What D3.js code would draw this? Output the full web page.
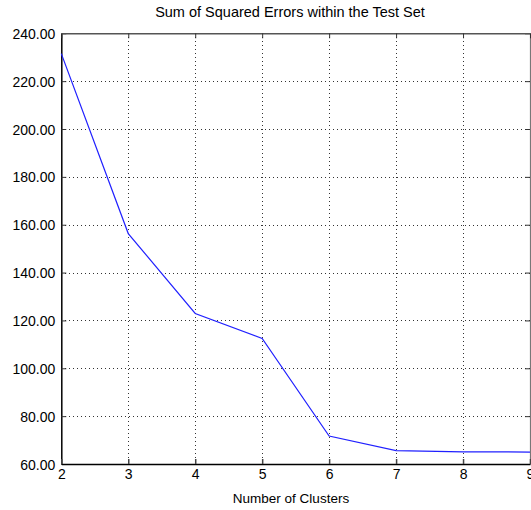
<!DOCTYPE html>
<html>
<head>
<meta charset="utf-8">
<script src="https://cdn.jsdelivr.net/npm/d3@7"></script>
<style>
  html, body { margin: 0; padding: 0; background: #fff; }
  text { font-family: "Liberation Sans", Arial, sans-serif; fill: #000; }
</style>
</head>
<body>
<svg id="chart" width="531" height="510"></svg>
<script>
const clusters = [2, 3, 4, 5, 6, 7, 8, 9];
const sse = [231.5, 156.3, 122.9, 112.5, 71.7, 65.6, 65.1, 65.0];
const yTicks = [60, 80, 100, 120, 140, 160, 180, 200, 220, 240];
const xTicks = [2, 3, 4, 5, 6, 7, 8, 9];
const titleText = "Sum of Squared Errors within the Test Set";
const xLabelText = "Number of Clusters";

const svg = d3.select("#chart");
const pL = 61.3, pR = 530, pT = 33.3, pB = 464;

const x = d3.scaleLinear().domain([2, 9]).range([pL, pR]);
const y = d3.scaleLinear().domain([60, 240]).range([pB, pT]);

// grid
const grid = svg.append("g").attr("stroke", "#333").attr("stroke-width", 1)
  .attr("stroke-dasharray", "1,3").attr("shape-rendering", "crispEdges");
grid.selectAll(".vg").data(xTicks.slice(1, -1)).join("line")
  .attr("x1", d => Math.round(x(d)) + 0.5).attr("x2", d => Math.round(x(d)) + 0.5)
  .attr("y1", pT).attr("y2", pB);
grid.selectAll(".hg").data(yTicks.slice(1, -1)).join("line")
  .attr("y1", d => Math.round(y(d)) + 0.5).attr("y2", d => Math.round(y(d)) + 0.5)
  .attr("x1", pL).attr("x2", pR);

// axes with inward ticks
const yAxisL = d3.axisLeft(y).tickValues(yTicks).tickSizeInner(-5).tickSizeOuter(0)
  .tickPadding(10).tickFormat(d3.format(".2f"));
const gL = svg.append("g").attr("transform", `translate(${pL},0)`).call(yAxisL);
gL.select(".domain").attr("stroke", "#000").attr("stroke-width", 1.5);
gL.selectAll(".tick line").attr("stroke", "#333");
gL.selectAll(".tick text").attr("font-size", 14).attr("font-family", "Liberation Sans, Arial, sans-serif")
  .attr("fill", "#222").attr("x", -6).attr("dy", "0.36em");

const yAxisR = d3.axisRight(y).tickValues(yTicks).tickSizeInner(-5).tickSizeOuter(0).tickFormat("");
const gR = svg.append("g").attr("transform", `translate(${pR},0)`).call(yAxisR);
gR.select(".domain").attr("stroke", "#777").attr("stroke-width", 1.2);
gR.selectAll(".tick line").attr("stroke", "#333");

const xAxisB = d3.axisBottom(x).tickValues(xTicks).tickSizeInner(-5).tickSizeOuter(0)
  .tickPadding(8).tickFormat(d3.format("d"));
const gB = svg.append("g").attr("transform", `translate(0,${pB})`).call(xAxisB);
gB.select(".domain").attr("stroke", "#000").attr("stroke-width", 1.5);
gB.selectAll(".tick line").attr("stroke", "#444").attr("stroke-width", 1.5);
gB.selectAll(".tick text").attr("font-size", 14).attr("font-family", "Liberation Sans, Arial, sans-serif")
  .attr("fill", "#222").attr("y", 5).attr("dy", "0.71em");

const xAxisT = d3.axisTop(x).tickValues(xTicks).tickSizeInner(-5).tickSizeOuter(0).tickFormat("");
const gT = svg.append("g").attr("transform", `translate(0,${pT})`).call(xAxisT);
gT.select(".domain").attr("stroke", "#555").attr("stroke-width", 1.5);
gT.selectAll(".tick line").attr("stroke", "#333");

// data line
const line = d3.line().x((d, i) => x(clusters[i])).y(d => y(d));
svg.append("path").datum(sse)
  .attr("d", line).attr("fill", "none").attr("stroke", "#2020ff").attr("stroke-width", 1.2);

// title & axis label
svg.append("text").attr("x", 290).attr("y", 17).attr("text-anchor", "middle")
  .attr("font-size", 14.5).attr("fill", "#222").text(titleText);
svg.append("text").attr("x", 291).attr("y", 503).attr("text-anchor", "middle")
  .attr("font-size", 13.5).attr("fill", "#222").text(xLabelText);
</script>
</body>
</html>
